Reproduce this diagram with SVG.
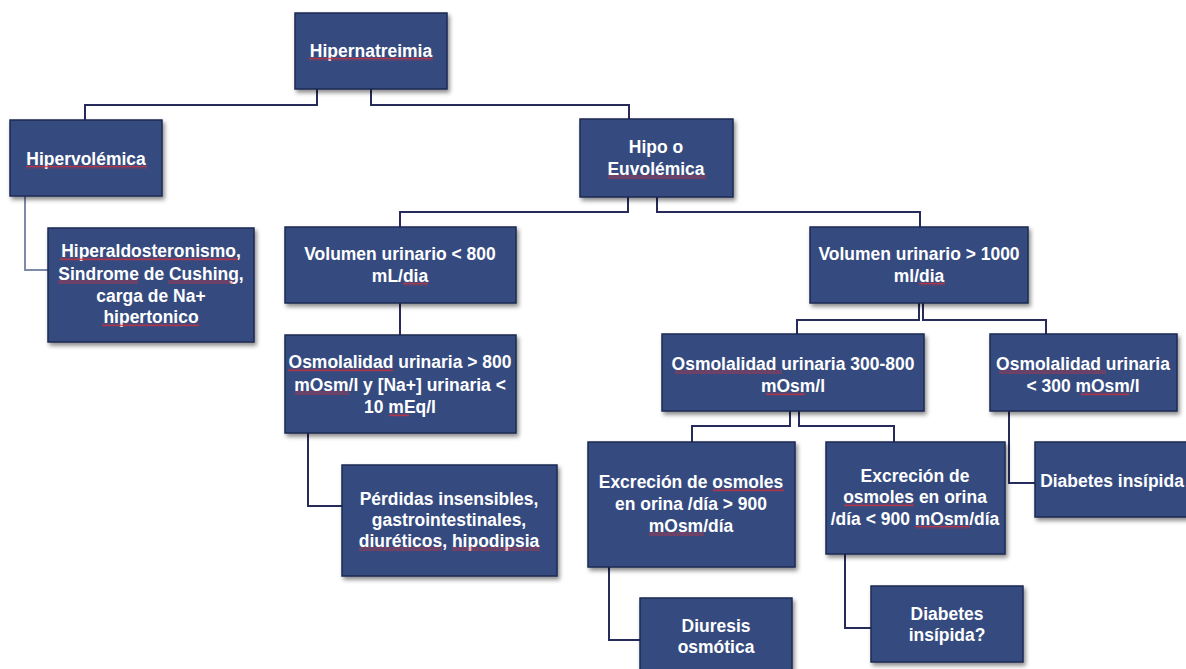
<svg xmlns="http://www.w3.org/2000/svg" width="1186" height="669" viewBox="0 0 1186 669">
  <defs>
    <filter id="shadow" x="-10%" y="-10%" width="125%" height="130%">
      <feDropShadow dx="2" dy="3" stdDeviation="2.2" flood-color="#000" flood-opacity="0.45"/>
    </filter>
    <!-- wavy spell-check underline -->
    <pattern id="squiggle" x="0" y="0" width="4" height="3" patternUnits="userSpaceOnUse">
      <polyline points="0,2.5 1,0.5 2,2.5 3,0.5 4,2.5" fill="none" stroke="#D0303A" stroke-width="0.8"/>
    </pattern>
  </defs>
  <style>
    .box { fill: #364C80; stroke: #1E2A52; stroke-width: 1.5; filter: url(#shadow); }
    .lbl { fill: #FFFFFF; font-family: "Liberation Sans", Arial, sans-serif; font-weight: bold; font-size: 19px; text-anchor: middle; }
    .wire { fill: none; stroke: #262B5A; stroke-width: 2; }
    .wire-light { fill: none; stroke: #7D8AA8; stroke-width: 2; }
    .sq { fill: url(#squiggle); }
  </style>
  <rect width="1186" height="669" fill="#FFFFFF"/>

  <!-- connectors -->
  <g id="connectors">
    <path class="wire" d="M317 89 V105 H85 V120"/>
    <path class="wire" d="M371 89 V105 H629 V119"/>
    <path class="wire-light" d="M25 196 V270 H48"/>
    <path class="wire" d="M628 197 V212 H400 V227"/>
    <path class="wire" d="M657 197 V212 H920 V227"/>
    <path class="wire" d="M400 303 V335"/>
    <path class="wire" d="M308 433 V506 H342"/>
    <path class="wire" d="M919 303 V320 H797 V334"/>
    <path class="wire" d="M923 303 V320 H1046 V334"/>
    <path class="wire" d="M790 411 V426 H692 V442"/>
    <path class="wire" d="M799 411 V426 H894 V442"/>
    <path class="wire" d="M1009 411 V483 H1035"/>
    <path class="wire" d="M609 567 V640 H640"/>
    <path class="wire" d="M845 554 V628 H871"/>
  </g>

  <g id="hipernatreimia">
    <rect class="box" x="295" y="13" width="152" height="76"/>
    <g transform="translate(371 0) scale(0.92 1)">
      <text class="lbl" x="0" y="57">Hipernatreimia</text>
    </g>
    <rect class="sq" x="309" y="57.5" width="124" height="3"/>
  </g>

  <g id="hipervolemica">
    <rect class="box" x="10" y="120" width="152" height="76"/>
    <g transform="translate(86 0) scale(0.92 1)">
      <text class="lbl" x="0" y="165">Hipervolémica</text>
    </g>
    <rect class="sq" x="26" y="165.5" width="121" height="3"/>
  </g>

  <g id="hiperaldosteronismo">
    <rect class="box" x="48" y="228" width="206" height="114"/>
    <g transform="translate(151 0) scale(0.92 1)">
      <text class="lbl" x="0" y="257">Hiperaldosteronismo,</text>
      <text class="lbl" x="0" y="280">Sindrome de Cushing,</text>
      <text class="lbl" x="0" y="302">carga de Na+</text>
      <text class="lbl" x="0" y="323">hipertonico</text>
    </g>
    <rect class="sq" x="60" y="257.5" width="178" height="3"/>
    <rect class="sq" x="58" y="280.5" width="80" height="3"/>
    <rect class="sq" x="168" y="280.5" width="65" height="3"/>
    <rect class="sq" x="102" y="323.5" width="97" height="3"/>
  </g>

  <g id="hipo-euvolemica">
    <rect class="box" x="580" y="119" width="153" height="78"/>
    <g transform="translate(656 0) scale(0.92 1)">
      <text class="lbl" x="0" y="153">Hipo o</text>
      <text class="lbl" x="0" y="175">Euvolémica</text>
    </g>
    <rect class="sq" x="608" y="175.5" width="98" height="3"/>
  </g>

  <g id="volumen-bajo">
    <rect class="box" x="285" y="227" width="231" height="76"/>
    <g transform="translate(400 0) scale(0.92 1)">
      <text class="lbl" x="0" y="260">Volumen urinario &lt; 800</text>
      <text class="lbl" x="0" y="282">mL/dia</text>
    </g>
    <rect class="sq" x="403" y="282.5" width="25" height="3"/>
  </g>

  <g id="osmolalidad-alta">
    <rect class="box" x="285" y="335" width="231" height="98"/>
    <g transform="translate(400 0) scale(0.92 1)">
      <text class="lbl" x="0" y="368">Osmolalidad urinaria &gt; 800</text>
      <text class="lbl" x="0" y="391">mOsm/l y [Na+] urinaria &lt;</text>
      <text class="lbl" x="0" y="413">10 mEq/l</text>
    </g>
    <rect class="sq" x="288" y="368.5" width="105" height="3"/>
    <rect class="sq" x="295" y="391.5" width="54" height="3"/>
    <rect class="sq" x="389" y="413.5" width="20" height="3"/>
  </g>

  <g id="perdidas">
    <rect class="box" x="342" y="465" width="215" height="111"/>
    <g transform="translate(449 0) scale(0.92 1)">
      <text class="lbl" x="0" y="505">Pérdidas insensibles,</text>
      <text class="lbl" x="0" y="526">gastrointestinales,</text>
      <text class="lbl" x="0" y="547">diuréticos, hipodipsia</text>
    </g>
    <rect class="sq" x="359" y="547.5" width="83" height="3"/>
    <rect class="sq" x="452" y="547.5" width="88" height="3"/>
  </g>

  <g id="volumen-alto">
    <rect class="box" x="810" y="227" width="218" height="76"/>
    <g transform="translate(919 0) scale(0.92 1)">
      <text class="lbl" x="0" y="260">Volumen urinario &gt; 1000</text>
      <text class="lbl" x="0" y="282">ml/dia</text>
    </g>
    <rect class="sq" x="919" y="282.5" width="26" height="3"/>
  </g>

  <g id="osmolalidad-media">
    <rect class="box" x="662" y="334" width="262" height="77"/>
    <g transform="translate(793 0) scale(0.92 1)">
      <text class="lbl" x="0" y="370">Osmolalidad urinaria 300-800</text>
      <text class="lbl" x="0" y="392">mOsm/l</text>
    </g>
    <rect class="sq" x="675" y="370.5" width="107" height="3"/>
    <rect class="sq" x="766" y="392.5" width="39" height="3"/>
  </g>

  <g id="osmolalidad-baja">
    <rect class="box" x="990" y="334" width="187" height="77"/>
    <g transform="translate(1083 0) scale(0.92 1)">
      <text class="lbl" x="0" y="370">Osmolalidad urinaria</text>
      <text class="lbl" x="0" y="392">&lt; 300 mOsm/l</text>
    </g>
    <rect class="sq" x="999" y="370.5" width="107" height="3"/>
    <rect class="sq" x="1081" y="392.5" width="48" height="3"/>
  </g>

  <g id="excrecion-alta">
    <rect class="box" x="588" y="442" width="207" height="125"/>
    <g transform="translate(691 0) scale(0.92 1)">
      <text class="lbl" x="0" y="488">Excreción de osmoles</text>
      <text class="lbl" x="0" y="510">en orina /día &gt; 900</text>
      <text class="lbl" x="0" y="532">mOsm/día</text>
    </g>
    <rect class="sq" x="713" y="488.5" width="71" height="3"/>
    <rect class="sq" x="649" y="532.5" width="55" height="3"/>
  </g>

  <g id="excrecion-baja">
    <rect class="box" x="826" y="442" width="179" height="112"/>
    <g transform="translate(915 0) scale(0.92 1)">
      <text class="lbl" x="0" y="482">Excreción de</text>
      <text class="lbl" x="0" y="503">osmoles en orina</text>
      <text class="lbl" x="0" y="525">/día &lt; 900 mOsm/día</text>
    </g>
    <rect class="sq" x="844" y="503.5" width="70" height="3"/>
    <rect class="sq" x="915" y="525.5" width="55" height="3"/>
  </g>

  <g id="diabetes-insipida">
    <rect class="box" x="1035" y="442" width="160" height="75"/>
    <g transform="translate(1112 0) scale(0.92 1)">
      <text class="lbl" x="0" y="487">Diabetes insípida</text>
    </g>
  </g>

  <g id="diuresis-osmotica">
    <rect class="box" x="640" y="598" width="152" height="80"/>
    <g transform="translate(716 0) scale(0.92 1)">
      <text class="lbl" x="0" y="632">Diuresis</text>
      <text class="lbl" x="0" y="653">osmótica</text>
    </g>
  </g>

  <g id="diabetes-insipida-dudosa">
    <rect class="box" x="871" y="586" width="152" height="76"/>
    <g transform="translate(947 0) scale(0.92 1)">
      <text class="lbl" x="0" y="620">Diabetes</text>
      <text class="lbl" x="0" y="641">insípida?</text>
    </g>
  </g>
</svg>
